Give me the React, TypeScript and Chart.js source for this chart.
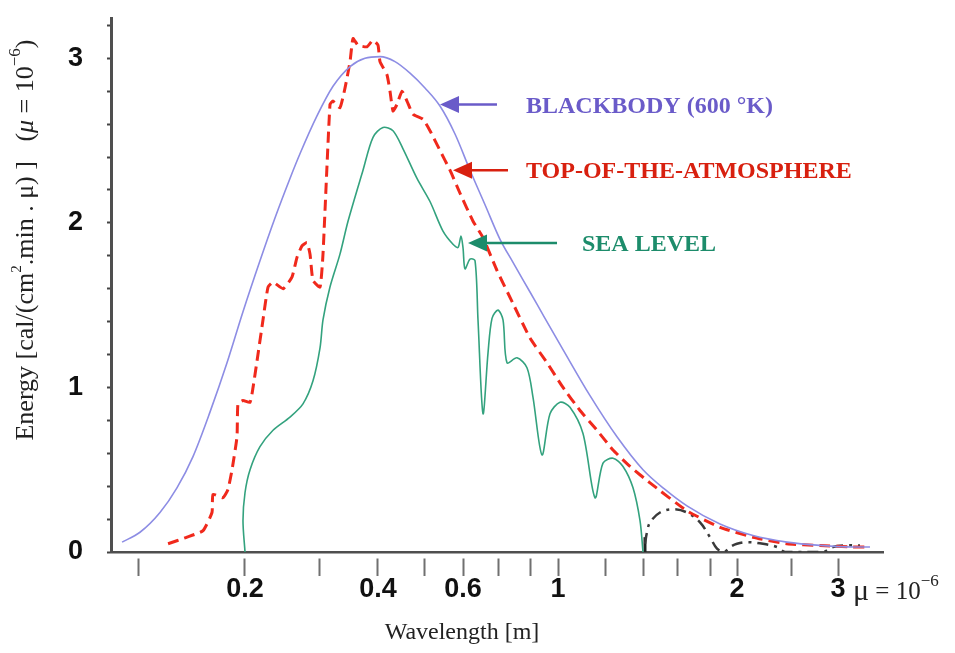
import React, { useEffect, useRef } from "react";
import { Chart, registerables } from "chart.js";

Chart.register(...registerables);

// ---------- warped wavelength axis, as printed on the original figure ----------
const AXIS_STOP_WAVELENGTHS = [0.1, 0.2, 0.3, 0.4, 0.5, 0.6, 0.7, 0.8, 1, 1.2, 1.4, 1.6, 1.8, 2, 2.5, 3];
const AXIS_STOP_UNITS = [2.7, 13.4, 20.8, 26.7, 31.3, 35.2, 38.7, 41.9, 44.7, 49.4, 53.2, 56.6, 59.9, 62.6, 68.1, 72.7];
const AXIS_UNIT_MAX = 77.2;
const X_LABELLED = [0.2, 0.4, 0.6, 1, 2, 3];

const Y_MAX = 3.245;
const Y_STEP = 0.2;
const Y_LABELLED = [0, 1, 2, 3];

// ---------- series (wavelength in µm, energy in cal/(cm².min.µ)) ----------
const BLACKBODY_WL = [0.0902, 0.1013, 0.1153, 0.1287, 0.1428, 0.1594, 0.178, 0.1974, 0.2171, 0.2357, 0.2559, 0.2703, 0.2967, 0.3212, 0.349, 0.3754, 0.4039, 0.4344, 0.4672, 0.5023, 0.5388, 0.578, 0.6188, 0.6611, 0.7059, 0.7452, 0.8, 0.9016, 1.0196, 1.1322, 1.2599, 1.4, 1.5263, 1.658, 1.8716, 2.134, 2.4498, 2.7935, 3.1836, 3.4056];
const BLACKBODY_E = [0.06, 0.12, 0.24, 0.39, 0.58, 0.85, 1.15, 1.46, 1.77, 2.03, 2.27, 2.42, 2.65, 2.83, 2.95, 3.0, 3.01, 2.98, 2.91, 2.82, 2.71, 2.54, 2.32, 2.11, 1.9, 1.76, 1.58, 1.42, 1.23, 0.95, 0.7, 0.5, 0.38, 0.28, 0.17, 0.1, 0.06, 0.04, 0.03, 0.03];

const TOA_WL = [0.1215, 0.1374, 0.1524, 0.1615, 0.1626, 0.1734, 0.1791, 0.1839, 0.1899, 0.1911, 0.1974, 0.2056, 0.209, 0.2136, 0.2207, 0.2269, 0.2332, 0.2463, 0.2587, 0.2659, 0.2733, 0.2809, 0.2856, 0.2903, 0.3015, 0.3059, 0.3165, 0.3212, 0.3323, 0.3406, 0.349, 0.3541, 0.3628, 0.3791, 0.3904, 0.4, 0.4039, 0.4178, 0.424, 0.4302, 0.4386, 0.4494, 0.4604, 0.474, 0.4975, 0.5142, 0.5388, 0.5646, 0.5917, 0.6271, 0.6553, 0.697, 0.7452, 0.8, 0.9161, 1.0196, 1.0891, 1.1633, 1.2396, 1.3282, 1.439, 1.658, 1.8716, 2.134, 2.4498, 2.7935, 3.1836, 3.4056];
const TOA_E = [0.05, 0.09, 0.13, 0.24, 0.35, 0.33, 0.38, 0.5, 0.7, 0.9, 0.92, 0.91, 1.0, 1.16, 1.41, 1.61, 1.64, 1.6, 1.67, 1.79, 1.86, 1.88, 1.81, 1.65, 1.61, 1.81, 2.72, 2.74, 2.7, 2.82, 2.98, 3.12, 3.08, 3.07, 3.11, 3.08, 2.98, 2.9, 2.8, 2.68, 2.72, 2.8, 2.74, 2.66, 2.63, 2.56, 2.44, 2.32, 2.18, 2.01, 1.91, 1.71, 1.51, 1.3, 1.15, 1.0, 0.86, 0.74, 0.62, 0.52, 0.42, 0.25, 0.15, 0.09, 0.05, 0.04, 0.03, 0.03];

const SEA_WL = [0.2, 0.1974, 0.2, 0.2056, 0.2171, 0.2332, 0.2559, 0.2748, 0.2903, 0.3015, 0.3059, 0.3165, 0.3323, 0.3456, 0.3718, 0.3904, 0.4098, 0.4302, 0.4516, 0.4833, 0.5142, 0.5464, 0.5726, 0.5861, 0.5944, 0.6, 0.6053, 0.6188, 0.6326, 0.641, 0.6553, 0.6699, 0.6818, 0.7, 0.7148, 0.7268, 0.7578, 0.79, 0.8194, 0.8803, 0.9382, 1.0078, 1.0476, 1.1018, 1.1543, 1.1907, 1.2396, 1.291, 1.3444, 1.3831, 1.4];
const SEA_E = [0.0, 0.19, 0.36, 0.5, 0.64, 0.74, 0.82, 0.9, 1.04, 1.24, 1.41, 1.61, 1.81, 2.01, 2.32, 2.52, 2.58, 2.56, 2.45, 2.27, 2.13, 1.95, 1.87, 1.85, 1.92, 1.85, 1.72, 1.78, 1.77, 1.41, 0.84, 1.21, 1.42, 1.47, 1.41, 1.15, 1.18, 1.12, 0.94, 0.59, 0.84, 0.91, 0.88, 0.72, 0.33, 0.54, 0.57, 0.52, 0.39, 0.19, 0.0];

const IR_WL = [1.411, 1.422, 1.439, 1.4967, 1.575, 1.658, 1.737, 1.8, 1.85, 1.9011, 1.946, 2.0, 2.0829, 2.2226, 2.3524, 2.4298, 2.827, 2.941, 3.084, 3.273];
const IR_E = [0.05, 0.12, 0.18, 0.24, 0.26, 0.24, 0.18, 0.09, 0.02, 0.0, 0.03, 0.05, 0.06, 0.05, 0.03, 0.0, 0.0, 0.03, 0.04, 0.04];

const MARK_WL = [1.411, 1.411];
const MARK_E = [0, 0.09];

// ---------- annotation labels ----------
const ANNOTATIONS = [
  { label: "BLACKBODY (600 °K)", color: "#6a5bc9", tipWl: 0.5388, tipE: 2.72, shaft: 57, textGap: 86 },
  { label: "TOP-OF-THE-ATMOSPHERE", color: "#d8200f", tipWl: 0.5726, tipE: 2.32, shaft: 55, textGap: 73 },
  { label: "SEA LEVEL", color: "#1d8c6b", tipWl: 0.6134, tipE: 1.877, shaft: 89, textGap: 114 },
];

const SERIF = '"Liberation Serif", "Times New Roman", serif';
const SANS = '"Liberation Sans", Arial, sans-serif';

function toAxis(wl: number): number {
  const w = AXIS_STOP_WAVELENGTHS;
  const u = AXIS_STOP_UNITS;
  let i = 0;
  while (i < w.length - 2 && wl > w[i + 1]) i++;
  const t = Math.log(wl / w[i]) / Math.log(w[i + 1] / w[i]);
  return u[i] + t * (u[i + 1] - u[i]);
}

function pts(wl: number[], e: number[]) {
  return wl.map((w, i) => ({ x: toAxis(w), y: e[i] }));
}

type Run = { text: string; size: number; italic?: boolean; bold?: boolean; dy?: number; family?: string };
function runFont(r: Run) {
  return `${r.italic ? "italic " : ""}${r.bold ? "bold " : ""}${r.size}px ${r.family ?? SERIF}`;
}
function measureRuns(ctx: CanvasRenderingContext2D, runs: Run[]) {
  let w = 0;
  for (const r of runs) {
    ctx.font = runFont(r);
    w += ctx.measureText(r.text).width;
  }
  return w;
}
function drawRuns(ctx: CanvasRenderingContext2D, x: number, y: number, runs: Run[]) {
  let cx = x;
  for (const r of runs) {
    ctx.font = runFont(r);
    ctx.fillText(r.text, cx, y + (r.dy ?? 0));
    cx += ctx.measureText(r.text).width;
  }
  return cx;
}

const overlayPlugin = {
  id: "overlay",
  afterDraw(chart: any) {
    const ctx: CanvasRenderingContext2D = chart.ctx;
    const xs = chart.scales.x;
    const ys = chart.scales.y;
    const area = chart.chartArea;
    ctx.save();
    ctx.textBaseline = "middle";
    ctx.textAlign = "left";

    // arrows + labels
    for (const a of ANNOTATIONS) {
      const tx = xs.getPixelForValue(toAxis(a.tipWl));
      const ty = ys.getPixelForValue(a.tipE);
      ctx.strokeStyle = a.color;
      ctx.fillStyle = a.color;
      ctx.lineWidth = 2.5;
      ctx.beginPath();
      ctx.moveTo(tx + 12, ty);
      ctx.lineTo(tx + a.shaft, ty);
      ctx.stroke();
      ctx.beginPath();
      ctx.moveTo(tx, ty);
      ctx.lineTo(tx + 19, ty - 8.5);
      ctx.lineTo(tx + 19, ty + 8.5);
      ctx.closePath();
      ctx.fill();
      ctx.font = `bold 24px ${SERIF}`;
      ctx.fillText(a.label, tx + a.textGap, ty + 2);
    }

    // x-axis title
    ctx.fillStyle = "#222";
    ctx.textAlign = "center";
    ctx.font = `24px ${SERIF}`;
    ctx.fillText("Wavelength [m]", area.left + 351, area.bottom + 81);

    // unit note after the last x tick label
    ctx.textAlign = "left";
    ctx.fillStyle = "#222";
    drawRuns(ctx, area.left + 742, area.bottom + 40, [
      { text: "μ", size: 30 },
      { text: " = 10", size: 25 },
      { text: "−6", size: 17, dy: -10 },
    ]);

    // y-axis title (rotated)
    const yRuns: Run[] = [
      { text: "Energy [cal/(cm", size: 26 },
      { text: "2", size: 15, dy: -9 },
      { text: ".min . μ) ]   (", size: 26 },
      { text: "μ", size: 26, italic: true },
      { text: " = 10", size: 26 },
      { text: "−6", size: 17, dy: -10 },
      { text: ")", size: 26 },
    ];
    const total = measureRuns(ctx, yRuns);
    const cy = 240;
    ctx.translate(26, cy + total / 2);
    ctx.rotate(-Math.PI / 2);
    drawRuns(ctx, 0, 0, yRuns);
    ctx.restore();
  },
};

export default function App() {
  const ref = useRef<HTMLCanvasElement>(null);
  useEffect(() => {
    const canvas = ref.current;
    if (!canvas) return;
    const chart = new Chart(canvas, {
      type: "line",
      data: {
        datasets: [
          {
            label: "Blackbody",
            data: pts(BLACKBODY_WL, BLACKBODY_E),
            borderColor: "#8d8de4",
            borderWidth: 1.6,
            cubicInterpolationMode: "monotone",
            pointRadius: 0,
            fill: false,
          },
          {
            label: "Top of atmosphere",
            data: pts(TOA_WL, TOA_E),
            borderColor: "#f0291c",
            borderWidth: 3,
            borderDash: [11, 6],
            tension: 0.15,
            pointRadius: 0,
            fill: false,
          },
          {
            label: "Sea level",
            data: pts(SEA_WL, SEA_E),
            borderColor: "#33a27e",
            borderWidth: 1.6,
            tension: 0.3,
            pointRadius: 0,
            fill: false,
          },
          {
            label: "Infrared",
            data: pts(IR_WL, IR_E),
            borderColor: "#3a3a3a",
            borderWidth: 2.5,
            borderDash: [11, 6, 3, 6],
            tension: 0.35,
            pointRadius: 0,
            fill: false,
          },
          {
            label: "Marker",
            data: pts(MARK_WL, MARK_E),
            borderColor: "#222",
            borderWidth: 3,
            pointRadius: 0,
            fill: false,
          },
        ],
      },
      options: {
        responsive: false,
        animation: false,
        devicePixelRatio: 1,
        layout: { padding: { top: 18, right: 72, left: 0, bottom: 0 } },
        plugins: { legend: { display: false }, tooltip: { enabled: false } },
        scales: {
          x: {
            type: "linear",
            min: 0,
            max: AXIS_UNIT_MAX,
            afterBuildTicks: (s: any) => {
              s.ticks = AXIS_STOP_WAVELENGTHS.map((w) => ({ value: toAxis(w) }));
            },
            afterFit: (s: any) => {
              s.height = 101;
              s.paddingLeft = 0;
              s.paddingRight = 0;
            },
            grid: {
              drawOnChartArea: false,
              drawTicks: true,
              tickLength: 24,
              tickColor: "#707070",
              tickWidth: 2,
              tickBorderDash: [0, 5, 18, 200],
            },
            border: { display: true, color: "#4f4f4f", width: 2.5 },
            ticks: {
              autoSkip: false,
              maxRotation: 0,
              padding: -3,
              color: "#111",
              font: { family: SANS, size: 27, weight: "bold" },
              callback: (_v: any, idx: number) => {
                const w = AXIS_STOP_WAVELENGTHS[idx];
                return X_LABELLED.includes(w) ? String(w) : "";
              },
            },
          },
          y: {
            min: 0,
            max: Y_MAX,
            afterBuildTicks: (s: any) => {
              const t = [];
              for (let v = 0; v <= Y_MAX + 1e-9; v += Y_STEP) t.push({ value: Math.round(v * 10) / 10 });
              s.ticks = t.filter((k) => k.value <= Y_MAX);
            },
            afterFit: (s: any) => {
              s.width = 111;
              s.paddingTop = 0;
              s.paddingBottom = 0;
            },
            grid: { drawOnChartArea: false, tickLength: 4, tickColor: "#444", tickWidth: 2 },
            border: { display: true, color: "#4f4f4f", width: 3 },
            ticks: {
              autoSkip: false,
              padding: 24,
              color: "#111",
              font: { family: SANS, size: 27, weight: "bold" },
              callback: (v: any) => {
                const n = Number(v);
                return Y_LABELLED.some((l) => Math.abs(l - n) < 1e-6) ? String(Math.round(n)) : "";
              },
            },
          },
        },
      } as any,
      plugins: [overlayPlugin],
    });
    return () => chart.destroy();
  }, []);
  return (
    <canvas
      ref={ref}
      width={955}
      height={653}
      style={{ position: "fixed", left: 0, top: 0, width: 955, height: 653 }}
    />
  );
}
